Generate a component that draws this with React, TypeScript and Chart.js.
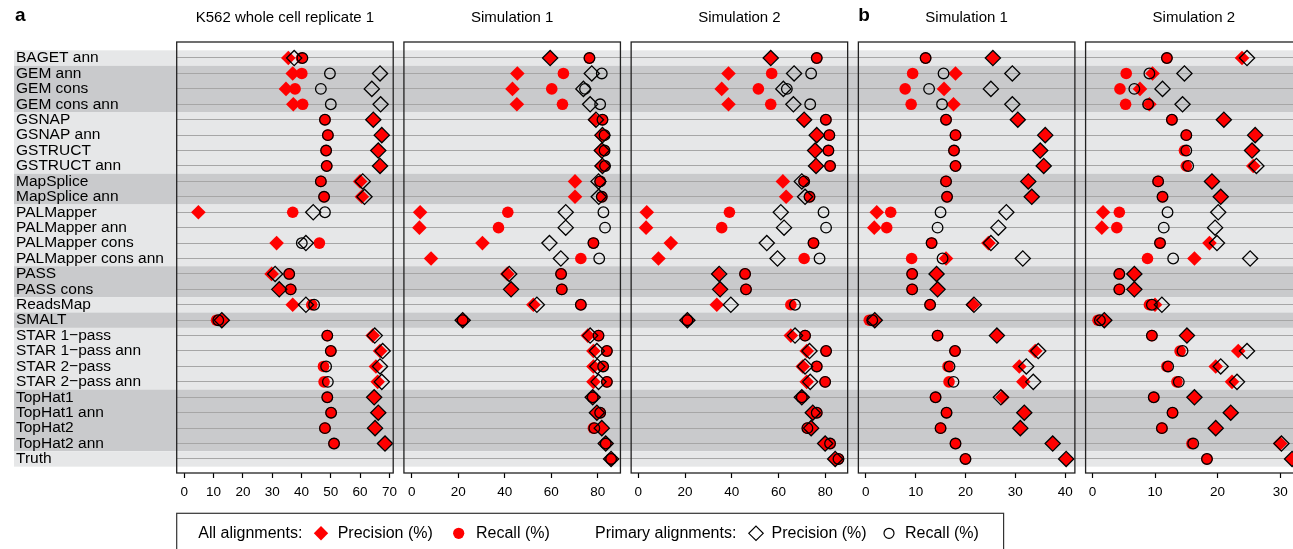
import { useEffect, useRef } from 'react';
import { Chart, registerables } from 'chart.js';

Chart.register(...registerables);

// ---------- data ----------
const rowLabels = [
  'BAGET ann', 'GEM ann', 'GEM cons', 'GEM cons ann', 'GSNAP', 'GSNAP ann', 'GSTRUCT', 'GSTRUCT ann',
  'MapSplice', 'MapSplice ann', 'PALMapper', 'PALMapper ann', 'PALMapper cons', 'PALMapper cons ann',
  'PASS', 'PASS cons', 'ReadsMap', 'SMALT', 'STAR 1\u2212pass', 'STAR 1\u2212pass ann', 'STAR 2\u2212pass',
  'STAR 2\u2212pass ann', 'TopHat1', 'TopHat1 ann', 'TopHat2', 'TopHat2 ann', 'Truth',
];
const rowFamily = [
  'BAGET', 'GEM', 'GEM', 'GEM', 'GSNAP', 'GSNAP', 'GSNAP', 'GSNAP', 'MapSplice', 'MapSplice',
  'PALMapper', 'PALMapper', 'PALMapper', 'PALMapper', 'PASS', 'PASS', 'ReadsMap', 'SMALT',
  'STAR', 'STAR', 'STAR', 'STAR', 'TopHat', 'TopHat', 'TopHat', 'TopHat', 'Truth',
];
const panelTitles = ['K562 whole cell replicate 1', 'Simulation 1', 'Simulation 2', 'Simulation 1', 'Simulation 2'];
const panelLetters = ['a', null, null, 'b', null];
const panelTicks = [
  [0, 10, 20, 30, 40, 50, 60, 70],
  [0, 20, 40, 60, 80],
  [0, 20, 40, 60, 80],
  [0, 10, 20, 30, 40],
  [0, 10, 20, 30],
];
const panelMin = [-2.6, -3.36, -3.09, -1.49, -1.09];
const panelMax = [71.3, 89.72, 89.64, 41.95, 33.5];

const k562AllPrecision = [35.5, 37.0, 34.7, 37.2, 64.5, 67.4, 66.2, 66.8, 60.0, 60.6, 4.8, null, 31.5, null, 29.8, 32.4, 37.0, 12.8, 64.3, 66.8, 65.4, 66.0, 64.8, 66.2, 65.1, 68.5, null];
const k562AllRecall = [40.0, 40.1, 37.8, 40.4, 48.0, 49.0, 48.4, 48.6, 46.6, 47.7, 37.0, null, 46.1, null, 35.8, 36.3, 43.5, 11.0, 48.8, 50.0, 47.5, 47.7, 48.8, 50.1, 48.0, 51.1, null];
const k562PrimaryPrecision = [37.5, 66.8, 64.0, 67.0, 64.5, 67.4, 66.2, 66.8, 60.9, 61.5, 44.0, null, 41.5, null, 31.0, 32.4, 41.5, 12.8, 65.0, 67.7, 66.8, 67.4, 64.8, 66.2, 65.1, 68.5, null];
const k562PrimaryRecall = [40.3, 49.7, 46.6, 50.0, 48.0, 49.0, 48.4, 48.6, 46.6, 47.7, 48.0, null, 40.1, null, 35.8, 36.3, 44.3, 11.6, 48.8, 50.0, 48.4, 49.0, 48.8, 50.1, 48.0, 51.1, null];

const simA1AllPrecision = [59.5, 45.4, 43.3, 45.2, 78.8, 81.7, 81.4, 81.7, 70.2, 70.2, 3.6, 3.3, 30.4, 8.3, 41.1, 42.7, 52.3, 21.9, 75.7, 78.1, 78.1, 78.1, 77.8, 79.6, 81.7, 83.4, 85.7];
const simA1AllRecall = [76.4, 65.2, 60.2, 64.8, 82.0, 82.7, 82.7, 82.9, 81.0, 81.7, 41.3, 37.3, 78.1, 72.7, 64.2, 64.5, 72.7, 21.9, 80.3, 83.9, 82.0, 83.9, 77.8, 81.0, 78.1, 83.4, 85.7];
const simA1PrimaryPrecision = [59.5, 77.4, 73.8, 76.7, 79.2, 82.0, 81.7, 82.0, 80.3, 80.4, 66.2, 66.2, 59.2, 64.1, 41.9, 42.7, 53.8, 21.9, 76.7, 79.6, 79.8, 80.3, 77.8, 79.6, 81.7, 83.4, 85.7];
const simA1PrimaryRecall = [76.4, 81.7, 74.5, 81.0, 82.0, 82.9, 82.9, 83.1, 81.0, 81.7, 82.4, 83.1, 78.1, 80.6, 64.2, 64.5, 72.7, 21.9, 80.3, 83.9, 82.3, 83.9, 77.8, 81.0, 78.5, 83.4, 85.7];

const simA2AllPrecision = [56.7, 38.6, 35.7, 38.6, 71.0, 76.4, 75.7, 76.1, 61.9, 63.3, 3.6, 3.3, 13.9, 8.6, 34.3, 35.0, 33.6, 21.0, 65.3, 72.1, 70.4, 72.1, 70.0, 74.7, 74.0, 80.0, 84.3];
const simA2AllRecall = [76.4, 57.1, 51.4, 56.7, 80.3, 81.8, 81.4, 82.1, 71.0, 73.3, 39.0, 35.7, 75.0, 71.0, 45.7, 46.1, 65.3, 21.0, 71.4, 80.4, 76.4, 80.0, 70.0, 76.4, 72.4, 82.1, 85.7];
const simA2PrimaryPrecision = [56.7, 66.7, 62.1, 66.4, 71.0, 76.4, 75.7, 76.1, 70.0, 71.4, 61.0, 62.4, 55.0, 59.6, 34.6, 35.0, 39.6, 21.0, 67.1, 73.3, 71.4, 73.6, 70.0, 74.7, 74.0, 80.0, 84.3];
const simA2PrimaryRecall = [76.4, 74.0, 63.6, 73.6, 80.3, 81.8, 81.4, 82.1, 71.0, 73.3, 79.3, 80.4, 75.0, 77.6, 45.7, 46.1, 67.1, 21.0, 71.4, 80.4, 76.4, 80.0, 70.0, 76.4, 72.4, 82.1, 85.7];

const simB1AllPrecision = [25.5, 18.0, 15.7, 17.6, 30.5, 36.0, 35.0, 35.7, 32.6, 33.3, 2.2, 1.7, 24.6, 16.1, 14.2, 14.4, 21.5, 1.8, 26.3, 34.0, 30.8, 31.6, 27.4, 31.8, 31.0, 37.5, 40.2];
const simB1AllRecall = [12.0, 9.4, 7.9, 9.1, 16.1, 18.0, 17.7, 18.0, 16.1, 16.3, 5.0, 4.2, 13.2, 9.2, 9.3, 9.3, 12.9, 0.7, 14.4, 17.9, 16.5, 16.7, 14.0, 16.2, 15.0, 18.0, 20.0];
const simB1PrimaryPrecision = [25.5, 29.4, 25.1, 29.4, 30.5, 36.0, 35.0, 35.7, 32.6, 33.3, 28.2, 26.6, 25.1, 31.5, 14.2, 14.4, 21.7, 1.8, 26.3, 34.6, 32.2, 33.6, 27.1, 31.8, 31.0, 37.5, 40.2];
const simB1PrimaryRecall = [12.0, 15.6, 12.7, 15.3, 16.1, 18.0, 17.7, 18.0, 16.1, 16.3, 15.0, 14.4, 13.2, 15.4, 9.3, 9.3, 12.9, 1.3, 14.4, 17.9, 16.8, 17.6, 14.0, 16.2, 15.0, 18.0, 20.0];

const simB2AllPrecision = [23.9, 9.6, 7.6, 9.1, 21.0, 26.0, 25.5, 25.7, 19.1, 20.5, 1.7, 1.5, 18.7, 16.3, 6.7, 6.7, 10.0, 1.9, 15.1, 23.3, 19.7, 22.3, 16.3, 22.1, 19.7, 30.0, 31.9];
const simB2AllRecall = [11.9, 5.4, 4.4, 5.3, 12.7, 15.0, 14.7, 15.0, 10.5, 11.2, 4.3, 3.9, 10.8, 8.8, 4.3, 4.3, 9.1, 0.9, 9.5, 14.0, 11.9, 13.5, 9.8, 12.8, 11.1, 15.9, 18.3];
const simB2PrimaryPrecision = [24.7, 14.7, 11.2, 14.4, 21.0, 26.0, 25.5, 26.2, 19.1, 20.5, 20.1, 19.6, 19.9, 25.2, 6.7, 6.7, 11.1, 1.9, 15.1, 24.7, 20.5, 23.1, 16.3, 22.1, 19.7, 30.2, 31.9];
const simB2PrimaryRecall = [11.9, 9.1, 6.7, 8.9, 12.7, 15.0, 15.0, 15.3, 10.5, 11.2, 12.0, 11.4, 10.8, 12.9, 4.3, 4.3, 9.5, 1.2, 9.5, 14.4, 12.1, 13.8, 9.8, 12.8, 11.1, 16.1, 18.3];

const panelSeries = [
  [k562AllPrecision, k562AllRecall, k562PrimaryPrecision, k562PrimaryRecall],
  [simA1AllPrecision, simA1AllRecall, simA1PrimaryPrecision, simA1PrimaryRecall],
  [simA2AllPrecision, simA2AllRecall, simA2PrimaryPrecision, simA2PrimaryRecall],
  [simB1AllPrecision, simB1AllRecall, simB1PrimaryPrecision, simB1PrimaryRecall],
  [simB2AllPrecision, simB2AllRecall, simB2PrimaryPrecision, simB2PrimaryRecall],
];

// ---------- style ----------
const FONT = '"Liberation Sans", Arial, Helvetica, sans-serif';
const RED = '#ff0000';
const INK = '#000000';
const BAND_LIGHT = '#e6e7e8';
const BAND_DARK = '#c9cacc';
const GRID = '#a6a6a6';
const CANVAS_W = 1311;
const CANVAS_H = 549;
const PANEL_W = 216.3;
const GAP_W = 10.7;

const toPoints = (arr: (number | null)[]) =>
  arr.map((v, i) => (v == null ? null : { x: v, y: i })).filter((p) => p !== null) as { x: number; y: number }[];

const seriesStyle = [
  { style: 'rectRot', radius: 7.3, bg: RED, border: RED, bw: 0, order: 1 },
  { style: 'circle', radius: 5.8, bg: RED, border: RED, bw: 0, order: 1 },
  { style: 'rectRot', radius: 7.6, bg: 'rgba(0,0,0,0)', border: INK, bw: 1.3, order: 0 },
  { style: 'circle', radius: 5.3, bg: 'rgba(0,0,0,0)', border: INK, bw: 1.3, order: 0 },
];
const seriesNames = ['All precision', 'All recall', 'Primary precision', 'Primary recall'];

function drawDiamond(ctx: CanvasRenderingContext2D, x: number, y: number, r: number) {
  ctx.beginPath();
  ctx.moveTo(x, y - r);
  ctx.lineTo(x + r, y);
  ctx.lineTo(x, y + r);
  ctx.lineTo(x - r, y);
  ctx.closePath();
}

const decorPlugin = {
  id: 'decor',
  beforeDraw(chart: any) {
    const { ctx, scales } = chart;
    const y = scales.y;
    ctx.save();
    ctx.fillStyle = '#ffffff';
    ctx.fillRect(0, 0, chart.width, chart.height);
    // row bands, grouped by aligner family
    let g = 0;
    let start = 0;
    for (let i = 1; i <= rowLabels.length; i++) {
      if (i === rowLabels.length || rowFamily[i] !== rowFamily[start]) {
        const top = y.getPixelForValue(start - 0.5);
        const bot = y.getPixelForValue(i - 0.5);
        ctx.fillStyle = g % 2 === 0 ? BAND_LIGHT : BAND_DARK;
        ctx.fillRect(14, top, chart.width - 14, bot - top);
        g++;
        start = i;
      }
    }
    ctx.restore();
  },
  afterDraw(chart: any) {
    const { ctx, chartArea, scales } = chart;
    ctx.save();
    // panel frames, titles
    for (let p = 0; p < 5; p++) {
      const s = scales['x' + p];
      ctx.strokeStyle = '#222';
      ctx.lineWidth = 1.3;
      ctx.strokeRect(s.left, chartArea.top, s.right - s.left, chartArea.bottom - chartArea.top);
      ctx.fillStyle = '#000';
      ctx.font = `15px ${FONT}`;
      ctx.textAlign = 'center';
      ctx.textBaseline = 'middle';
      ctx.fillText(panelTitles[p], (s.left + s.right) / 2, 17.5);
      const letter = panelLetters[p];
      if (letter) {
        ctx.font = `bold 19px ${FONT}`;
        ctx.textAlign = 'left';
        ctx.fillText(letter, p === 0 ? 15 : s.left, 16);
      }
    }
    // legend
    const ly = 533.3;
    ctx.strokeStyle = '#333';
    ctx.lineWidth = 1.2;
    ctx.strokeRect(176.7, 513.3, 1003.6 - 176.7, 60);
    ctx.font = `16px ${FONT}`;
    ctx.textAlign = 'left';
    ctx.textBaseline = 'middle';
    ctx.fillStyle = '#000';
    ctx.fillText('All alignments:', 198.3, ly);
    ctx.fillText('Precision (%)', 337.7, ly);
    ctx.fillText('Recall (%)', 476, ly);
    ctx.fillText('Primary alignments:', 595, ly);
    ctx.fillText('Precision (%)', 771.5, ly);
    ctx.fillText('Recall (%)', 905, ly);
    ctx.fillStyle = RED;
    drawDiamond(ctx, 321, ly, 7.2);
    ctx.fill();
    ctx.beginPath();
    ctx.arc(458.7, ly, 5.6, 0, Math.PI * 2);
    ctx.fill();
    ctx.strokeStyle = '#000';
    ctx.lineWidth = 1.2;
    drawDiamond(ctx, 756, ly, 7.2);
    ctx.stroke();
    ctx.beginPath();
    ctx.arc(889, ly, 5, 0, Math.PI * 2);
    ctx.stroke();
    ctx.restore();
  },
};

function buildConfig(): any {
  const datasets: any[] = [];
  panelSeries.forEach((series, p) => {
    series.forEach((arr, k) => {
      const st = seriesStyle[k];
      datasets.push({
        type: 'scatter',
        label: `${panelTitles[p]} ${seriesNames[k]}`,
        data: toPoints(arr),
        xAxisID: 'x' + p,
        yAxisID: 'y',
        showLine: false,
        order: st.order,
        pointStyle: st.style,
        pointRadius: st.radius,
        pointHoverRadius: st.radius,
        pointBackgroundColor: st.bg,
        pointBorderColor: st.border,
        pointBorderWidth: st.bw,
        clip: false,
      });
    });
  });

  const scales: any = {
    y: {
      type: 'linear',
      position: 'left',
      reverse: true,
      min: -1.04,
      max: 26.91,
      afterBuildTicks: (s: any) => {
        s.ticks = rowLabels.map((_, i) => ({ value: i }));
      },
      afterFit: (s: any) => {
        s.width = 160.7;
        s.paddingTop = 0;
        s.paddingBottom = 0;
      },
      ticks: {
        autoSkip: false,
        crossAlign: 'far',
        padding: 0,
        color: '#000',
        font: { family: FONT, size: 15.5, lineHeight: 1 },
        callback: (v: any) => rowLabels[v as number] ?? '',
      },
      grid: { color: GRID, lineWidth: 1.1, drawTicks: false },
      border: { display: false },
    },
  };
  let w = 0;
  for (let p = 0; p < 5; p++) {
    scales['x' + p] = {
      type: 'linear',
      position: 'bottom',
      stack: 'panels',
      stackWeight: PANEL_W,
      weight: w++,
      min: panelMin[p],
      max: panelMax[p],
      afterBuildTicks: (s: any) => {
        s.ticks = panelTicks[p].map((v) => ({ value: v }));
      },
      afterFit: (s: any) => {
        s.height = 30;
        s.paddingLeft = 0;
        s.paddingRight = 0;
      },
      ticks: {
        autoSkip: false,
        maxRotation: 0,
        minRotation: 0,
        padding: 6,
        color: '#000',
        font: { family: FONT, size: 13.5 },
      },
      grid: { drawOnChartArea: false, drawTicks: true, tickLength: 5, tickColor: '#000', tickWidth: 1.2 },
      border: { display: false },
    };
    if (p < 4) {
      scales['gap' + p] = {
        type: 'linear',
        position: 'bottom',
        stack: 'panels',
        stackWeight: GAP_W,
        weight: w++,
        display: true,
        afterFit: (s: any) => {
          s.height = 30;
          s.paddingLeft = 0;
          s.paddingRight = 0;
        },
        ticks: { display: false },
        grid: { display: false },
        border: { display: false },
      };
    }
  }

  return {
    type: 'scatter',
    data: { datasets },
    options: {
      responsive: false,
      maintainAspectRatio: false,
      animation: false,
      events: [],
      layout: { padding: { left: 16, top: 42, right: 0, bottom: 46 } },
      plugins: { legend: { display: false }, tooltip: { enabled: false } },
      scales,
    },
    plugins: [decorPlugin],
  };
}

export default function App() {
  const ref = useRef<HTMLCanvasElement>(null);
  useEffect(() => {
    if (!ref.current) return;
    const chart = new Chart(ref.current, buildConfig());
    return () => chart.destroy();
  }, []);
  return (
    <div
      style={{
        position: 'fixed',
        left: 0,
        top: 0,
        width: 1293,
        height: 549,
        overflow: 'hidden',
        background: '#fff',
      }}
    >
      <canvas ref={ref} width={CANVAS_W} height={CANVAS_H} style={{ display: 'block', width: CANVAS_W, height: CANVAS_H }} />
    </div>
  );
}
